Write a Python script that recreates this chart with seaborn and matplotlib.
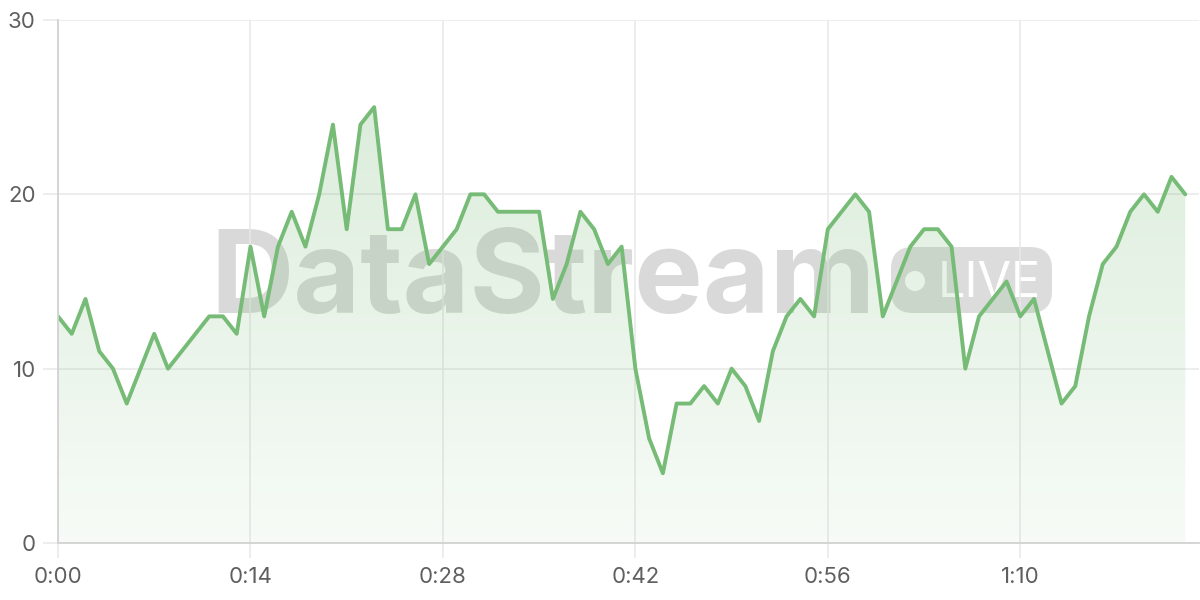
import numpy as np
import pandas as pd
import matplotlib
matplotlib.use("Agg")
import matplotlib.pyplot as plt
import seaborn as sns
from matplotlib.patches import FancyBboxPatch, Circle, Polygon
from matplotlib.colors import LinearSegmentedColormap
from matplotlib.transforms import IdentityTransform

# ---- data ----
seconds = list(range(83))
values = [13, 12, 14, 11, 10, 8, 10, 12, 10, 11,
          12, 13, 13, 12, 17, 13, 17, 19, 17, 20,
          24, 18, 24, 25, 18, 18, 20, 16, 17, 18,
          20, 20, 19, 19, 19, 19, 14, 16, 19, 18,
          16, 17, 10, 6, 4, 8, 8, 9, 8, 10,
          9, 7, 11, 13, 14, 13, 18, 19, 20, 19,
          13, 15, 17, 18, 18, 17, 10, 13, 14, 15,
          13, 14, 11, 8, 9, 13, 16, 17, 19, 20,
          19, 21, 20]
x_ticks = [0, 14, 28, 42, 56, 70]
x_tick_labels = ["0:00", "0:14", "0:28", "0:42", "0:56", "1:10"]
y_ticks = [0, 10, 20, 30]
y_tick_labels = ["0", "10", "20", "30"]
watermark_main = "DataStream"
watermark_badge = "LIVE"

line_color = "#76bb76"
grid_color = "#e8e8e8"
label_color = "#5f5f5f"

df = pd.DataFrame({"t": seconds, "v": values})

sns.set_theme(style="white")
plt.rcParams["font.family"] = ["Inter", "DejaVu Sans"]

W, H = 1200, 600
fig = plt.figure(figsize=(12, 6), dpi=100)
fig.patch.set_facecolor("white")
ax = fig.add_axes([58 / W, 57 / H, 1141 / W, 523 / H])
ax.set_facecolor("white")

def px(x, y):
    return (x, H - y)

# ---- watermark (behind everything) ----
pix = IdentityTransform()
ax.text(*px(210, 313), watermark_main, transform=pix, fontsize=83,
        fontweight="bold", color="#d9d9d9", ha="left", va="baseline",
        zorder=0.2)
pill = FancyBboxPatch(px(891, 313), 161, 66,
                      boxstyle="round,pad=0,rounding_size=22",
                      transform=pix, facecolor="#dcdcdc", edgecolor="none",
                      zorder=0.2, clip_on=False)
ax.add_artist(pill)
ax.add_artist(Circle(px(915, 281), 10, transform=pix, facecolor="white",
                     edgecolor="none", zorder=0.25, clip_on=False))
ax.text(*px(938, 297), watermark_badge, transform=pix, fontsize=35,
        color="white", ha="left", va="baseline", zorder=0.25)

# ---- line ----
sns.lineplot(data=df, x="t", y="v", ax=ax, color=line_color,
             linewidth=2.8, zorder=3)

# ---- gradient fill ----
verts = [(seconds[0], 0)] + list(zip(seconds, values)) + [(seconds[-1], 0)]
poly = Polygon(verts, closed=True, facecolor="none", edgecolor="none")
ax.add_patch(poly)
g = (0.47, 0.73, 0.47)
cmap = LinearSegmentedColormap.from_list(
    "grad", [(*g, 0.06), (*g, 0.30)])
grad = np.linspace(1, 0, 256).reshape(-1, 1)
im = ax.imshow(grad, extent=[seconds[0], seconds[-1], 0, max(y_ticks)],
               aspect="auto", cmap=cmap, origin="upper", zorder=2,
               interpolation="bilinear")
im.set_clip_path(poly)

# ---- axes styling ----
ax.set_xlim(0, 83)
ax.set_ylim(0, 30)
ax.set_xticks(x_ticks)
ax.set_xticklabels(x_tick_labels)
ax.set_yticks(y_ticks)
ax.set_yticklabels(y_tick_labels)
ax.set_xlabel("")
ax.set_ylabel("")
ax.grid(True, color=grid_color, linewidth=1.1)
ax.set_axisbelow(True)
for s in ["top", "right"]:
    ax.spines[s].set_visible(False)
for s in ["left", "bottom"]:
    ax.spines[s].set_color("#d2d2d2")
    ax.spines[s].set_linewidth(1.3)
    ax.spines[s].set_zorder(4)
ax.tick_params(axis="both", which="major", length=11, width=1.1,
               color=grid_color, labelcolor=label_color, labelsize=16)
ax.tick_params(axis="y", pad=5)
ax.tick_params(axis="x", pad=6)
ax.tick_params(left=True, bottom=True)

fig.savefig("out.png", dpi=100, facecolor="white")
